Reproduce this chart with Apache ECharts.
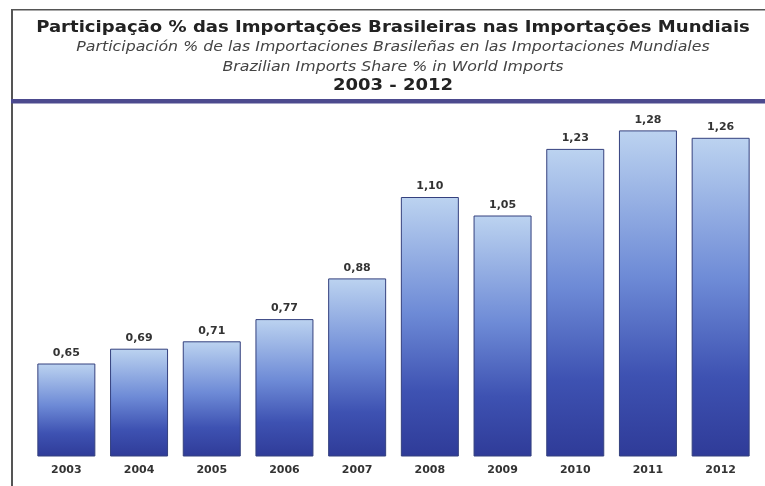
<!DOCTYPE html>
<html>
<head>
<meta charset="utf-8">
<script src="https://cdn.jsdelivr.net/npm/echarts@6/dist/echarts.min.js"></script>
<style>
  html, body { margin: 0; padding: 0; background: #ffffff; }
  #chart { width: 765px; height: 486px; }
</style>
</head>
<body>
<div id="chart"></div>
<script>
// Brazilian share (%) of world imports, by year
const years = ['2003', '2004', '2005', '2006', '2007', '2008', '2009', '2010', '2011', '2012'];
const shares = [0.65, 0.69, 0.71, 0.77, 0.88, 1.10, 1.05, 1.23, 1.28, 1.26];

const titleLines = [
  'Participação % das Importações Brasileiras nas Importações Mundiais',
  'Participación % de las Importaciones Brasileñas en las Importaciones Mundiales',
  'Brazilian Imports Share % in World Imports',
  '2003 - 2012'
];

const chart = echarts.init(document.getElementById('chart'), null, { renderer: 'canvas' });

const font = 'DejaVu Sans, Verdana, sans-serif';
const cx = 393;

function headingText(text, y, style, sx) {
  return {
    type: 'text', x: cx, y: y, scaleX: sx,
    style: Object.assign({ text: text, align: 'center', verticalAlign: 'middle' }, style)
  };
}

chart.setOption({
  backgroundColor: '#ffffff',
  animation: false,
  graphic: [
    // frame: top and left rules
    { type: 'rect', shape: { x: 11, y: 9, width: 760, height: 1.5 }, style: { fill: '#555555' } },
    { type: 'rect', shape: { x: 11, y: 9, width: 2, height: 480 }, style: { fill: '#555555' } },
    // heading separator
    { type: 'rect', shape: { x: 11, y: 99, width: 760, height: 4.5 }, style: { fill: '#4c4a8e' } },
    headingText(titleLines[0], 28, { font: 'bold 16.5px ' + font, fill: '#222222' }, 1.095),
    headingText(titleLines[1], 47.5, { font: 'italic 13.5px ' + font, fill: '#444444' }, 1.17),
    headingText(titleLines[2], 67, { font: 'italic 13.5px ' + font, fill: '#444444' }, 1.17),
    headingText(titleLines[3], 86, { font: 'bold 15px ' + font, fill: '#222222' }, 1.2)
  ],
  grid: { left: 30, right: 8, top: 86, bottom: 30, containLabel: false },
  xAxis: {
    type: 'category',
    data: years,
    axisLine: { show: false },
    axisTick: { show: false },
    axisLabel: { color: '#333333', fontFamily: font, fontWeight: 'bold', fontSize: 11, margin: 9 }
  },
  yAxis: {
    type: 'value',
    min: 0.4,
    max: 1.4,
    show: false,
    splitLine: { show: false }
  },
  series: [{
    type: 'bar',
    data: shares,
    barWidth: 58,
    itemStyle: {
      color: new echarts.graphic.LinearGradient(0, 0, 0, 1, [
        { offset: 0, color: '#bcd3f0' },
        { offset: 0.45, color: '#6d8ad6' },
        { offset: 0.75, color: '#3e52b2' },
        { offset: 1, color: '#2f3b98' }
      ]),
      borderColor: '#34407e',
      borderWidth: 1
    },
    label: {
      show: true,
      position: 'top',
      distance: 5,
      color: '#333333',
      fontFamily: font,
      fontWeight: 'bold',
      fontSize: 11,
      formatter: p => p.value.toFixed(2).replace('.', ',')
    }
  }]
});
</script>
</body>
</html>
